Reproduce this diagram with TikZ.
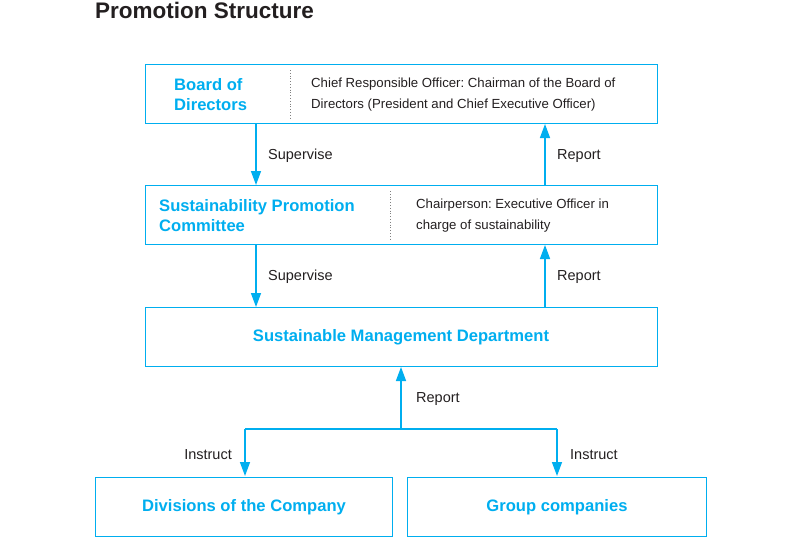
\documentclass[tikz,border=0pt]{standalone}
\usepackage{fontspec}
\setmainfont{Liberation Sans}
\usetikzlibrary{arrows.meta,positioning}
\definecolor{cyanb}{HTML}{00AEEF}
\definecolor{txt}{HTML}{231F20}
\frenchspacing
\begin{document}
\begin{tikzpicture}[x=1pt,y=-1pt,
  box/.style={draw=cyanb,line width=1.1pt,minimum width=#1,minimum height=59pt,inner sep=0pt,anchor=north west},
  box/.default=512pt,
  conn/.style={draw=cyanb,line width=1.4pt},
  arr/.style={conn,-{Triangle[width=10pt,length=14pt]}},
  lab/.style={font=\fontsize{14.5}{17}\selectfont,text=txt,anchor=west,inner sep=0pt},
  head/.style={font=\bfseries\fontsize{16.6}{20}\selectfont,text=cyanb,align=left,anchor=west,inner sep=0pt},
  desc/.style={font=\fontsize{13.2}{21}\selectfont,text=txt,align=left,anchor=west,inner sep=0pt},
  div/.style={draw=gray,line width=0.8pt,dotted}]
\useasboundingbox (0,0) rectangle (800,538);
\node[font=\bfseries\fontsize{22.5}{26}\selectfont,text=txt,anchor=west,inner sep=0pt] (title) at (95,10.5) {Promotion Structure};

\node[box] (bod) at (145,64) {};
\node[box] (spc) at (145,185) {};
\node[box] (smd) at (145,307) {};
\node[box=297pt] (dv) at (95,477) {};
\node[box=299pt] (gc) at (407,477) {};

\node[head] (bodt) at (174,95) {Board of\\Directors};
\node[desc] (bodd) at (311,95) {Chief Responsible Officer: Chairman of the Board of\\Directors (President and Chief Executive Officer)};
\draw[div] (290,70) -- (290,118);

\node[head] (spct) at (159,216) {Sustainability Promotion\\Committee};
\node[desc] (spcd) at (416,216) {Chairperson: Executive Officer in\\charge of sustainability};
\draw[div] (390,191) -- (390,239);

\node[head,anchor=center] (smdt) at (401,337.5) {Sustainable Management Department};
\node[head,anchor=center] (dvt) at (244,507) {Divisions of the Company};
\node[head,anchor=center] (gct) at (557,507) {Group companies};

\coordinate (s1a) at (256,123);
\coordinate (s1b) at (256,185);
\draw[arr] (s1a) -- (s1b);
\node[lab] (sup1) at (268,156) {Supervise};
\coordinate (r1a) at (545,185);
\coordinate (r1b) at (545,124);
\draw[arr] (r1a) -- (r1b);
\node[lab] (rep1) at (557,156) {Report};

\coordinate (s2a) at (256,244);
\coordinate (s2b) at (256,307);
\draw[arr] (s2a) -- (s2b);
\node[lab] (sup2) at (268,277) {Supervise};
\coordinate (r2a) at (545,307);
\coordinate (r2b) at (545,245);
\draw[arr] (r2a) -- (r2b);
\node[lab] (rep2) at (557,277) {Report};

\coordinate (j) at (401,429);
\coordinate (jl) at (245,429);
\coordinate (jr) at (557,429);
\draw[arr] (j) -- (401,367);
\node[lab] (rep3) at (416,399) {Report};
\draw[conn] (jl) -- (jr);
\draw[arr] (jl) -- (245,476);
\draw[arr] (jr) -- (557,476);
\node[lab,anchor=east] (ins1) at (232,455) {Instruct};
\node[lab] (ins2) at (570,455) {Instruct};
\end{tikzpicture}
\end{document}
